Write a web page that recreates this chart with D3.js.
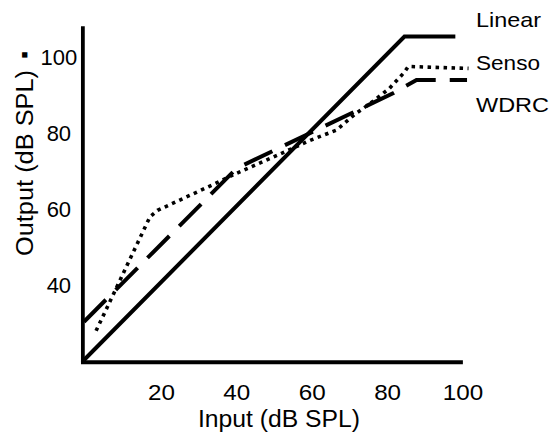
<!DOCTYPE html>
<html>
<head>
<meta charset="utf-8">
<script src="https://cdn.jsdelivr.net/npm/d3@7"></script>
<style>
  html, body { margin: 0; padding: 0; background: #fff; }
  svg { display: block; font-family: "Liberation Sans", Arial, sans-serif; }
</style>
</head>
<body>
<div id="chart"></div>
<script>
// Tick labels
var inputTicks = [20, 40, 60, 80, 100];
var outputTicks = [40, 60, 80, 100];

// Series (input dB SPL -> output dB SPL)
var seriesNames = ['Linear', 'Senso', 'WDRC'];
var linearInput = [0, 85, 98.5];
var linearOutput = [20, 105.4, 105.4];
var sensoInput = [3.2, 17.5, 19.5, 34, 40.5, 50, 60, 67, 72, 76, 81, 85, 86, 102];
var sensoOutput = [27.7, 57.8, 59.5, 66.2, 69.3, 73.5, 78, 80.7, 85, 87.8, 91.7, 96, 97.5, 97];
var wdrcInput = [0, 40.5, 82.1, 88.2, 101.6];
var wdrcOutput = [30.1, 70.6, 90.5, 93.9, 93.9];

var width = 554;
var height = 440;
var font = '"Liberation Sans", Arial, sans-serif';

var svg = d3.select('#chart').append('svg')
  .attr('width', width)
  .attr('height', height);

// Scales
var x = d3.scaleLinear().domain([0, 100]).range([84, 461]);
var y = d3.scaleLinear().domain([20, 100]).range([360, 57]);

function zip(xs, ys) {
  return xs.map(function (v, i) {
    return [v, ys[i]];
  });
}

var line = d3.line()
  .x(function (d) { return x(d[0]); })
  .y(function (d) { return y(d[1]); });

// Axis lines
var axisColor = '#000';
svg.append('line')
  .attr('x1', x(-0.3)).attr('x2', x(-0.3))
  .attr('y1', y(108.1)).attr('y2', y(19.4))
  .attr('stroke', axisColor).attr('stroke-width', 3.8);
svg.append('line')
  .attr('x1', x(-0.8)).attr('x2', x(100.5))
  .attr('y1', y(19.4)).attr('y2', y(19.4))
  .attr('stroke', axisColor).attr('stroke-width', 3.8);

// X axis labels
var xAxis = d3.axisBottom(x).tickValues(inputTicks).tickSize(0);
var gx = svg.append('g').attr('transform', 'translate(0,' + y(19.4) + ')').call(xAxis);
gx.select('.domain').remove();
gx.selectAll('text')
  .attr('y', 38).attr('dy', 0)
  .attr('font-size', 22).attr('font-family', font).attr('fill', '#000')
  .attr('transform', 'translate(1.5,0) scale(1.1,1)');

// Y axis labels
var yAxis = d3.axisLeft(y).tickValues(outputTicks).tickSize(0);
var gy = svg.append('g').attr('transform', 'translate(' + x(-0.3) + ',0)').call(yAxis);
gy.select('.domain').remove();
gy.selectAll('text')
  .attr('x', -24).attr('dy', '0.36em')
  .attr('text-anchor', 'middle')
  .attr('font-size', 22).attr('font-family', font).attr('fill', '#000');

// Axis titles
svg.append('text')
  .attr('x', 279).attr('y', 427)
  .attr('text-anchor', 'middle')
  .attr('font-size', 23)
  .attr('textLength', 162).attr('lengthAdjust', 'spacingAndGlyphs')
  .text('Input (dB SPL)');

svg.append('text')
  .attr('transform', 'translate(33,163) rotate(-90)')
  .attr('text-anchor', 'middle')
  .attr('font-size', 23)
  .attr('textLength', 186).attr('lengthAdjust', 'spacingAndGlyphs')
  .text('Output (dB SPL)');

svg.append('text')
  .attr('transform', 'translate(27.5,55) rotate(-90)')
  .attr('text-anchor', 'middle')
  .attr('font-size', 11)
  .text('\u25A0');

// Series lines
var styles = {
  Linear: { dash: null, width: 4 },
  Senso: { dash: '3.5,4.5', width: 3.6 },
  WDRC: { dash: '31,14', width: 4 }
};
var series = [
  zip(linearInput, linearOutput),
  zip(sensoInput, sensoOutput),
  zip(wdrcInput, wdrcOutput)
];

svg.selectAll('path.series')
  .data(series)
  .enter().append('path')
  .attr('class', 'series')
  .attr('d', line)
  .attr('fill', 'none')
  .attr('stroke', '#000')
  .attr('stroke-width', function (d, i) { return styles[seriesNames[i]].width; })
  .attr('stroke-dasharray', function (d, i) { return styles[seriesNames[i]].dash; })
  .attr('stroke-linejoin', 'miter');

// Legend labels
var legendLength = { Linear: 65, Senso: 64, WDRC: 73 };
svg.selectAll('text.legend')
  .data(seriesNames)
  .enter().append('text')
  .attr('class', 'legend')
  .attr('x', 476)
  .attr('y', function (d, i) { return 27 + i * 42.5; })
  .attr('font-size', 21)
  .attr('textLength', function (d) { return legendLength[d]; })
  .attr('lengthAdjust', 'spacingAndGlyphs')
  .text(function (d) { return d; });
</script>
</body>
</html>
